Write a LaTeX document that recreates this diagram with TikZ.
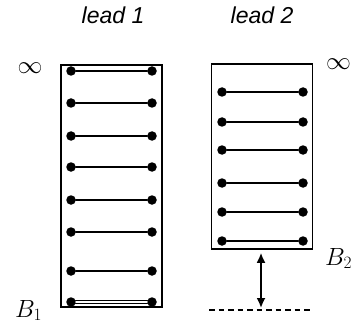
\documentclass[tikz,border=0pt]{standalone}
\usepackage{fontspec}
\newfontfamily\leadfont{Liberation Sans}
\usetikzlibrary{arrows.meta}

\tikzset{
  leadbox/.style={draw, line width=1.6pt, minimum width=101pt, inner sep=0pt},
  rung/.style={line width=2.2pt},
  site/.style={circle, fill, inner sep=0pt, minimum size=9.5pt},
  title/.style={font=\fontsize{23}{26}\selectfont\leadfont\itshape},
  big/.style={font=\fontsize{25}{29}\selectfont, inner sep=0pt}
}

\begin{document}
\begin{tikzpicture}[line cap=round,x=1pt,y=1pt]
\useasboundingbox (0,0) rectangle (352,324);
% the two leads
\node[leadbox, minimum height=242pt] (lead1) at (111.5,138) {};
\node[leadbox, minimum height=185pt] (lead2) at (262,167.5) {};
\node[title] (name1) at (113,309) {lead 1};
\node[title] (name2) at (262,309) {lead 2};
% rungs of lead 1
\foreach \y [count=\i] in {253,221,188,157,124,92,53} {
  \node[site] (la\i) at (71,\y) {};
  \node[site] (lb\i) at (152,\y) {};
  \draw[rung] (la\i) -- (lb\i);
}
\node[site] (la8) at (71,22) {};
\node[site] (lb8) at (152,22) {};
\draw[line width=1.3pt, double, double distance=1.6pt] (la8) -- (lb8);
% rungs of lead 2
\foreach \y [count=\i] in {232,202,174,141,112,83} {
  \node[site] (ra\i) at (222,\y) {};
  \node[site] (rb\i) at (303,\y) {};
  \draw[rung] (ra\i) -- (rb\i);
}
% ground line and gap
\coordinate (gl) at (209,14);
\coordinate (gr) at (312,14);
\coordinate (gap) at (261,16);
\draw[line cap=butt, line width=2.2pt, dash pattern=on 5.5pt off 4pt] (gl) -- (gr);
\draw[{Latex[length=10pt,width=9pt]}-{Latex[length=10pt,width=9pt]}, line width=1.8pt, shorten <=3pt] (lead2.south -| gap) -- (gap);
% ends
\node[big, anchor=center] (inf1) at (30,256) {$\infty$};
\node[big, anchor=west] (inf2) at (326,260) {$\infty$};
\node[big, anchor=base west] (b1) at (15,7) {$B_1$};
\node[big, anchor=base west] (b2) at (325,59) {$B_2$};
\end{tikzpicture}
\end{document}
